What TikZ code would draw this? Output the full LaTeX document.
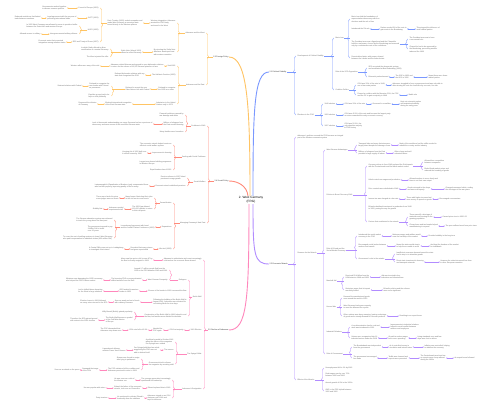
\documentclass[tikz,border=0pt]{standalone}
\usepackage{fontspec}
\setmainfont{Liberation Sans}
\usetikzlibrary{arrows.meta,calc,decorations.pathreplacing}
\definecolor{InkGray}{RGB}{100,100,100}
\definecolor{InkDark}{RGB}{45,45,45}
\definecolor{BlueLn}{RGB}{122,152,255}
\definecolor{PurpleLn}{RGB}{178,140,255}
\definecolor{OrangeLn}{RGB}{255,196,100}
\definecolor{RedLn}{RGB}{255,138,122}
\definecolor{PinkLn}{RGB}{255,135,188}

\begin{document}
\begin{tikzpicture}[
    x=1pt,y=-1pt,
    txt/.style={font=\fontsize{1.8}{2.45}\selectfont,text=InkGray,inner sep=0.3pt,align=left},
    tR/.style={txt,anchor=west},
    tL/.style={txt,anchor=east},
    mainLbl/.style={font=\fontsize{1.9}{2.5}\selectfont,text=InkDark,inner sep=0.3pt},
    ctrBox/.style={font=\fontsize{3.1}{3.8}\selectfont,text=black,align=center,inner sep=0.6pt},
    biArr/.style={{Latex[length=1.2pt,width=1.3pt]}-{Latex[length=1.2pt,width=1.3pt]},line width=0.5pt,color=#1},
    brc/.style={decorate,decoration={brace,amplitude=2pt},line width=0.45pt,draw=#1},
    stub/.style={line width=0.45pt,draw=#1},
    mainCurve/.style={line width=0.9pt,draw=#1}
  ]
  \fill[white] (0,0) rectangle (500,409);
  \useasboundingbox (0,0) rectangle (500,409);

  % Centre
  \node(ctr)[ctrBox] at (251,200) {2. West Germany\\(FRG)};

  % Branch 2.1: Political Stability (blue)
  \node(ps)[mainLbl,anchor=west] at (269,72) {2.1 Political Stability};
  \node(B1)[tR] at (297,56) {Development of Political Stability};
  \node(B2)[tR] at (297,115) {Elections in the FRG};

  \node(b11)[tR] at (335,38) {Basic Law};
  \node(b111)[tR] at (351,19) {Basic Law laid the foundations of\\representative democracy with free\\elections and the rule of law};
  \node(b112)[tR] at (351,29) {Introduced the 5\% rule};
  \node(b112a)[tR] at (380,29) {Parties needed 5\% of the vote to\\gain seats in the Bundestag};
  \node(b112b)[tR] at (416,29) {This stopped the influence of\\small radical parties};
  \node(b113)[tR] at (351,44) {The President was now a figurehead and the Chancellor\\held the real power, chosen by the Bundestag and removed\\only by a constructive vote of no confidence};
  \node(b113a)[tR] at (409,39) {The President was now to have\\a ceremonial role};
  \node(b113b)[tR] at (409,49) {Chancellor had to be approved by\\the Bundestag, preventing another\\takeover like 1933};
  \node(b114)[tR] at (351,58) {Decentralised state, with powers shared\\between the Länder and the federal state};

  \node(b12)[tR] at (335,72) {Role of the SPD Opposition};
  \node(b121)[tR] at (368,68) {SPD accepted the democratic system\\and moderated at Bad Godesberg (1959)};
  \node(b122)[tR] at (368,77) {Extremist parties banned};
  \node(b122a)[tR] at (395,77) {The SRP in 1952 and\\the KPD in 1956};
  \node(b122b)[tR] at (428,77) {Meant there were fewer\\radical parties};

  \node(b13)[tR] at (335,90) {Coalition Politics};
  \node(b131)[tR] at (357,85) {CDU won 31\% of the vote in 1949,\\one of two main parties};
  \node(b131a)[tR] at (392,85) {Adenauer struggled to form a government and was only able to\\after winning the vote for chancellor by one vote, his own};
  \node(b132)[tR] at (357,95) {Formed a coalition with the Bavarian CSU, the FDP\\and the DP to gain a majority in 1949};
  \node(b132a)[tR] at (408,95) {Stable rule};

  \node(b21)[tR] at (324,104) {1949 election};
  \node(b21a)[tR] at (344,104) {CDU won 31\% of the vote};
  \node(b21b)[tR] at (372,104) {Governed in a coalition};
  \node(b21c)[tR] at (400,104) {Kept out extremist parties\\and maintained stability\\during the early years};
  \node(b22)[tR] at (324,115) {1953 election};
  \node(b22a)[tR] at (344,115) {CDU won 45.2\% of the vote and became the largest party\\as voters rewarded the early economic recovery};
  \node(b23)[tR] at (324,126) {1957 election};
  \node(b23a)[tR] at (344,126) {CDU won 50.2\%, the\\only absolute majority\\in FRG history};

  \draw[mainCurve=BlueLn] ($(ctr.north)+(2,0)$) .. controls (253,110) and (254,72) .. (ps.west);
  \draw[stub=BlueLn] (ps) -- ($(B1.west |- ps)+(-1.5,0)$);
  \draw[brc=BlueLn,decoration={aspect=0.73}] ([xshift=-1.5pt]B2.west) -- ([xshift=-1.5pt]B1.west);
  \draw[stub=BlueLn] (B1) -- ($(b11.west |- B1)+(-1.5,0)$);
  \draw[brc=BlueLn,decoration={aspect=0.65}] ([xshift=-1.5pt]b13.west) -- ([xshift=-1.5pt]b11.west);
  \draw[stub=BlueLn] (b11) -- ($(b111.west |- b11)+(-1.5,0)$);
  \draw[brc=BlueLn] ([xshift=-1.5pt]b114.west) -- ([xshift=-1.5pt]b111.west);
  \draw[stub=BlueLn] (b113) -- ($(b113a.west |- b113)+(-1.5,0)$);
  \draw[brc=BlueLn] ([xshift=-1.5pt]b113b.west) -- ([xshift=-1.5pt]b113a.west);
  \draw[stub=BlueLn] (b12) -- ($(b121.west |- b12)+(-1.5,0)$);
  \draw[brc=BlueLn] ([xshift=-1.5pt]b122.west) -- ([xshift=-1.5pt]b121.west);
  \draw[stub=BlueLn] (b13) -- ($(b131.west |- b13)+(-1.5,0)$);
  \draw[brc=BlueLn] ([xshift=-1.5pt]b132.west) -- ([xshift=-1.5pt]b131.west);
  \draw[stub=BlueLn] (B2) -- ($(b21.west |- B2)+(-1.5,0)$);
  \draw[brc=BlueLn] ([xshift=-1.5pt]b23.west) -- ([xshift=-1.5pt]b21.west);
  \draw[biArr=BlueLn] (b112) -- (b112a);
  \draw[biArr=BlueLn] (b112a) -- (b112b);
  \draw[biArr=BlueLn] (b122) -- (b122a);
  \draw[biArr=BlueLn] (b122a) -- (b122b);
  \draw[biArr=BlueLn] (b131) -- (b131a);
  \draw[biArr=BlueLn] (b132) -- (b132a);
  \draw[biArr=BlueLn] (b21) -- (b21a);
  \draw[biArr=BlueLn] (b21a) -- (b21b);
  \draw[biArr=BlueLn] (b21b) -- (b21c);
  \draw[biArr=BlueLn] (b22) -- (b22a);
  \draw[biArr=BlueLn] (b23) -- (b23a);

  % Branch 2.2: Economic Miracle (purple)
  \node(em)[mainLbl,anchor=west] at (269,264) {2.2 Economic Miracle};
  \node(P1)[tR] at (297,137) {Adenauer's policies ensured the FRG became an integral\\part of the Western economic system};
  \node(P2)[tR] at (297,253) {Reasons for the Miracle};
  \node(P3)[tR] at (297,380) {Effects of the Miracle};

  \node(p21)[tR] at (326,150) {West German Advantages};
  \node(p211)[tR] at (358,145) {Transport links and many factories were\\largely intact despite the damage of war};
  \node(p211a)[tR] at (399,145) {Much of the workforce had the skills needed to\\rebuild the country and its industry};
  \node(p212)[tR] at (358,153) {Millions of refugees from the East\\provided a large supply of labour};
  \node(p212a)[tR] at (394,153) {Often cheap and well\\educated labour};

  \node(p22)[tR] at (326,195) {Policies to Boost Recovery 1948};
  \node(p221)[tR] at (368,166) {Currency reform in June 1948 replaced the Reichsmark\\with the Deutschmark and the black market ended};
  \node(p221a)[tR] at (424,162) {Allowed free competition\\between companies};
  \node(p221b)[tR] at (424,170) {Ended fixed market prices and\\reduced the hoarding of goods};
  \node(p222)[tR] at (368,180) {Lifted controls on wages and production};
  \node(p222a)[tR] at (409,180) {Allowed workers to move freely and\\firms to set their own output};
  \node(p223)[tR] at (368,189) {Price controls were abolished in 1948};
  \node(p223a)[tR] at (407,189) {Goods returned to the shops\\and were sold openly};
  \node(p223b)[tR] at (445,189) {Changed consumer habits, ending\\the shortages of the war years};
  \node(p224)[tR] at (368,199) {Income tax was charged at a low rate};
  \node(p224a)[tR] at (406,199) {Those with higher incomes had\\more money to spend on goods};
  \node(p224b)[tR] at (439,199) {Encouraged consumerism};
  \node(p225)[tR] at (368,208) {Erhard subsidised investment in production from 1948\\to 1950, paving the way for growth};
  \node(p226)[tR] at (368,222) {Factors that contributed to the miracle};
  \node(p226a)[tR] at (409,217) {There was still a shortage of\\materials and housing for the\\growing population};
  \node(p226a1)[tR] at (442,217) {Caused price rises in 1950--52};
  \node(p226b)[tR] at (409,226) {Cheap loans and tax breaks helped\\manufacturing to expand};
  \node(p226b1)[tR] at (445,226) {The poor suffered most from price rises};

  \node(p23)[tR] at (326,250) {Role of Erhard and the\\Social Market Economy};
  \node(p231)[tR] at (358,236) {Introduced the social market\\economy in the FRG};
  \node(p231a)[tR] at (392,236) {Minimum wages and welfare would\\ease the hardship of the market};
  \node(p231b)[tR] at (428,236) {Provided stability in the long term};
  \node(p232)[tR] at (358,246) {Encouraged social justice between\\workers and owners};
  \node(p232a)[tR] at (396,246) {Meant the state would step in\\to help those unable to work};
  \node(p232b)[tR] at (430,246) {And kept the freedom of the market\\for individuals};
  \node(p233)[tR] at (358,259) {Government's role in the miracle};
  \node(p233a)[tR] at (396,254) {Insufficient consumer demand meant the state\\had to step in to stimulate growth};
  \node(p233b)[tR] at (396,262) {Direct state investment in housing\\and transport networks};
  \node(p233b1)[tR] at (440,262) {However the state intervened less than\\in other European countries};

  \node(p24)[tR] at (326,281) {Marshall Aid};
  \node(p241)[tR] at (345,277) {Received \$1.4 billion from the\\USA between 1948 and 1952};
  \node(p241a)[tR] at (381,277) {Aid was invested in key\\industries and infrastructure};
  \node(p242)[tR] at (345,290) {Historians argue that its impact\\was fairly limited};
  \node(p242a)[tR] at (383,290) {Erhard's policies and the reforms\\were more significant};

  \node(p25)[tR] at (326,307) {Korean War};
  \node(p251)[tR] at (343,298) {Demand for manufactured goods\\rose around the world in 1950};
  \node(p252)[tR] at (343,307) {West Germany had spare capacity\\to meet the demand for exports};
  \node(p253)[tR] at (343,316) {Other nations were busy rearming, leaving a shortage\\of goods and a steady demand for German products};
  \node(p253a)[tR] at (399,316) {Resulting in an export boom};

  \node(p26)[tR] at (326,332) {Industrial Relations};
  \node(p261)[tR] at (351,327) {A co-determination law for coal and\\steel was introduced in 1951};
  \node(p261a)[tR] at (390,327) {Improvements in industrial relations\\helped to avoid conflict between\\workers and employers};
  \node(p262)[tR] at (351,338) {Unions were reorganised into 16\\industrial unions under the DGB};
  \node(p262a)[tR] at (388,338) {Growth in worker wages\\led to more spending};
  \node(p262b)[tR] at (417,338) {Living standards rose and few\\days were lost to strikes};

  \node(p27)[tR] at (326,354) {Role of Government};
  \node(p271)[tR] at (353,347) {The Bundesbank was independent\\from the government};
  \node(p271a)[tR] at (389,347) {As it controlled money in\\circulation and interest rates};
  \node(p271b)[tR] at (424,347) {Inflation was controlled, helping\\to stabilise the economy};
  \node(p272)[tR] at (353,358) {The government encouraged\\free trade};
  \node(p272a)[tR] at (388,358) {Tariffs were lowered and\\exports were promoted};
  \node(p272b)[tR] at (420,358) {The Deutschmark was kept low\\so exports were cheap abroad\\during the 1950s};
  \node(p272c)[tR] at (454,358) {An export boom followed};

  \node(p31)[tR] at (325,368) {Unemployment fell to 1\% by 1962};
  \node(p32)[tR] at (325,375) {Real wages rose by over 70\%\\between 1950 and 1962};
  \node(p33)[tR] at (325,383) {Annual growth of 8\% in the 1950s};
  \node(p34)[tR] at (325,391) {GNP in the FRG tripled between\\1950 and 1960};

  \draw[mainCurve=PurpleLn] ($(ctr.south)+(2,0)$) .. controls (253,255) and (254,264) .. (em.west);
  \draw[stub=PurpleLn] (em) -- ($(P2.west |- em)+(-1.5,0)$);
  \draw[brc=PurpleLn,decoration={aspect=0.477}] ([xshift=-1.5pt]P3.west) -- ([xshift=-1.5pt]P1.west);
  \draw[stub=PurpleLn] (P2) -- ($(p21.west |- P2)+(-1.5,0)$);
  \draw[brc=PurpleLn] ([xshift=-1.5pt]p27.west) -- ([xshift=-1.5pt]p21.west);
  \draw[stub=PurpleLn] (p21) -- ($(p211.west |- p21)+(-1.5,0)$);
  \draw[brc=PurpleLn] ([xshift=-1.5pt]p212.west) -- ([xshift=-1.5pt]p211.west);
  \draw[stub=PurpleLn] (p22) -- ($(p221.west |- p22)+(-1.5,0)$);
  \draw[brc=PurpleLn] ([xshift=-1.5pt]p226.west) -- ([xshift=-1.5pt]p221.west);
  \draw[stub=PurpleLn] (p221) -- ($(p221a.west |- p221)+(-1.5,0)$);
  \draw[brc=PurpleLn] ([xshift=-1.5pt]p221b.west) -- ([xshift=-1.5pt]p221a.west);
  \draw[stub=PurpleLn] (p226) -- ($(p226a.west |- p226)+(-1.5,0)$);
  \draw[brc=PurpleLn] ([xshift=-1.5pt]p226b.west) -- ([xshift=-1.5pt]p226a.west);
  \draw[stub=PurpleLn] (p23) -- ($(p231.west |- p23)+(-1.5,0)$);
  \draw[brc=PurpleLn] ([xshift=-1.5pt]p233.west) -- ([xshift=-1.5pt]p231.west);
  \draw[stub=PurpleLn] (p233) -- ($(p233a.west |- p233)+(-1.5,0)$);
  \draw[brc=PurpleLn] ([xshift=-1.5pt]p233b.west) -- ([xshift=-1.5pt]p233a.west);
  \draw[stub=PurpleLn] (p24) -- ($(p241.west |- p24)+(-1.5,0)$);
  \draw[brc=PurpleLn] ([xshift=-1.5pt]p242.west) -- ([xshift=-1.5pt]p241.west);
  \draw[stub=PurpleLn] (p25) -- ($(p251.west |- p25)+(-1.5,0)$);
  \draw[brc=PurpleLn] ([xshift=-1.5pt]p253.west) -- ([xshift=-1.5pt]p251.west);
  \draw[stub=PurpleLn] (p26) -- ($(p261.west |- p26)+(-1.5,0)$);
  \draw[brc=PurpleLn] ([xshift=-1.5pt]p262.west) -- ([xshift=-1.5pt]p261.west);
  \draw[stub=PurpleLn] (p27) -- ($(p271.west |- p27)+(-1.5,0)$);
  \draw[brc=PurpleLn] ([xshift=-1.5pt]p272.west) -- ([xshift=-1.5pt]p271.west);
  \draw[stub=PurpleLn] (P3) -- ($(p31.west |- P3)+(-1.5,0)$);
  \draw[brc=PurpleLn] ([xshift=-1.5pt]p34.west) -- ([xshift=-1.5pt]p31.west);
  \draw[biArr=PurpleLn] (p211) -- (p211a);
  \draw[biArr=PurpleLn] (p212) -- (p212a);
  \draw[biArr=PurpleLn] (p222) -- (p222a);
  \draw[biArr=PurpleLn] (p223) -- (p223a);
  \draw[biArr=PurpleLn] (p223a) -- (p223b);
  \draw[biArr=PurpleLn] (p224) -- (p224a);
  \draw[biArr=PurpleLn] (p224a) -- (p224b);
  \draw[biArr=PurpleLn] (p226a) -- (p226a1);
  \draw[biArr=PurpleLn] (p226b) -- (p226b1);
  \draw[biArr=PurpleLn] (p231) -- (p231a);
  \draw[biArr=PurpleLn] (p231a) -- (p231b);
  \draw[biArr=PurpleLn] (p232) -- (p232a);
  \draw[biArr=PurpleLn] (p232a) -- (p232b);
  \draw[biArr=PurpleLn] (p233b) -- (p233b1);
  \draw[biArr=PurpleLn] (p241) -- (p241a);
  \draw[biArr=PurpleLn] (p242) -- (p242a);
  \draw[biArr=PurpleLn] (p253) -- (p253a);
  \draw[biArr=PurpleLn] (p261) -- (p261a);
  \draw[biArr=PurpleLn] (p262) -- (p262a);
  \draw[biArr=PurpleLn] (p262a) -- (p262b);
  \draw[biArr=PurpleLn] (p271) -- (p271a);
  \draw[biArr=PurpleLn] (p271a) -- (p271b);
  \draw[biArr=PurpleLn] (p272) -- (p272a);
  \draw[biArr=PurpleLn] (p272a) -- (p272b);
  \draw[biArr=PurpleLn] (p272b) -- (p272c);

  % Branch 2.3: Foreign Policy (orange)
  \node(fp)[mainLbl,anchor=east] at (229,57) {2.3 Foreign Policy};
  \node(O1)[tL] at (205,33) {Adenauer and the West};
  \node(O2)[tL] at (205,85) {Adenauer and the East};

  \node(ow1)[tL] at (176,23) {Western integration: Adenauer\\wanted the FRG firmly\\anchored in the West};
  \node(ow1a)[tL] at (143,23) {Paris Treaties (1955) ended occupation and\\made West Germany a sovereign state\\bound closely to the Western powers};
  \node(ow1a1)[tL] at (99,8) {Council of Europe (1951)};
  \node(ow1a1a)[tL] at (67,8) {Governments worked together\\to discuss common policies};
  \node(ow1a2)[tL] at (99,18) {GATT (1951)};
  \node(ow1a2a)[tL] at (77,18) {Legal agreement with the purpose of\\promoting international trade};
  \node(ow1a2b)[tL] at (41,18) {Reduced restrictions that limited\\trade between members};
  \node(ow1a3)[tL] at (99,30) {NATO (1955)};
  \node(ow1a3a)[tL] at (78,26) {In 1955 West Germany was allowed to rearm to provide a buffer\\between the Soviet bloc and western Europe};
  \node(ow1a3b)[tL] at (78,34) {Intergovernmental military alliance};
  \node(ow1a3b1)[tL] at (41,34) {Allowed access to military};
  \node(ow1a4)[tL] at (99,42) {EEC and Treaty of Rome (1957)};
  \node(ow1a4a)[tL] at (66,42) {Economic union that promoted\\integration among member states};
  \node(ow2)[tL] at (176,52) {By rejecting the Stalin Note\\Adenauer developed trust\\with western countries};
  \node(ow2a)[tL] at (142,52) {Stalin Note (March 1952)\\offered a united Germany};
  \node(ow2a1)[tL] at (109,49) {In which Stalin offered to allow\\reunification of a neutral Germany};
  \node(ow2a2)[tL] at (109,57) {The West rejected the offer};

  \node(oe1)[tL] at (176,66) {Visit 1955};
  \node(oe1a)[tL] at (164,66) {Adenauer visited Moscow and agreed to open diplomatic relations\\in return for the release of 10,000 German prisoners of war};
  \node(oe1b)[tL] at (100,66) {Western allies were wary of the visit};
  \node(oe2)[tL] at (176,75) {The Hallstein Doctrine (1955)};
  \node(oe2a)[tL] at (145,75) {Refused diplomatic relations with any\\state that recognised the GDR};
  \node(oe3)[tL] at (176,89) {Refused to recognise\\the GDR as a state};
  \node(oe3a)[tL] at (150,89) {Refused to accept the new\\Oder-Neisse Line with Poland};
  \node(oe3a1)[tL] at (110,86) {Refused to recognise the\\new border with Poland\\as permanent};
  \node(oe3a1a)[tL] at (82,86) {Strained relations with Poland};
  \node(oe3a2)[tL] at (110,96) {Expellee groups had to be\\kept on side politically};
  \node(oe4)[tL] at (176,104) {Admission to the United\\Nations only in 1973};
  \node(oe4a)[tL] at (132,104) {Blocked international recognition\\of the East German state};
  \node(oe4b)[tL] at (97,104) {Deepened the division\\of Germany};

  \draw[mainCurve=OrangeLn] ($(ctr.north)+(-1,0)$) .. controls (250,110) and (248,57) .. (fp.east);
  \draw[stub=OrangeLn] (fp) -- ($(O1.east |- fp)+(1.5,0)$);
  \draw[brc=OrangeLn,decoration={aspect=0.46}] ([xshift=1.5pt]O1.east) -- ([xshift=1.5pt]O2.east);
  \draw[stub=OrangeLn] (O1) -- ($(ow1.east |- O1)+(1.5,0)$);
  \draw[brc=OrangeLn,decoration={aspect=0.35}] ([xshift=1.5pt]ow1.east) -- ([xshift=1.5pt]ow2.east);
  \draw[stub=OrangeLn] (ow1a) -- ($(ow1a1.east |- ow1a)+(1.5,0)$);
  \draw[brc=OrangeLn] ([xshift=1.5pt]ow1a1.east) -- ([xshift=1.5pt]ow1a4.east);
  \draw[stub=OrangeLn] (ow1a3) -- ($(ow1a3a.east |- ow1a3)+(1.5,0)$);
  \draw[brc=OrangeLn] ([xshift=1.5pt]ow1a3a.east) -- ([xshift=1.5pt]ow1a3b.east);
  \draw[stub=OrangeLn] (ow2a) -- ($(ow2a1.east |- ow2a)+(1.5,0)$);
  \draw[brc=OrangeLn] ([xshift=1.5pt]ow2a1.east) -- ([xshift=1.5pt]ow2a2.east);
  \draw[stub=OrangeLn] (O2) -- ($(oe1.east |- O2)+(1.5,0)$);
  \draw[brc=OrangeLn] ([xshift=1.5pt]oe1.east) -- ([xshift=1.5pt]oe4.east);
  \draw[stub=OrangeLn] (oe3a) -- ($(oe3a1.east |- oe3a)+(1.5,0)$);
  \draw[brc=OrangeLn] ([xshift=1.5pt]oe3a1.east) -- ([xshift=1.5pt]oe3a2.east);
  \draw[biArr=OrangeLn] (ow1) -- (ow1a);
  \draw[biArr=OrangeLn] (ow1a1) -- (ow1a1a);
  \draw[biArr=OrangeLn] (ow1a2) -- (ow1a2a);
  \draw[biArr=OrangeLn] (ow1a2a) -- (ow1a2b);
  \draw[biArr=OrangeLn] (ow1a3b) -- (ow1a3b1);
  \draw[biArr=OrangeLn] (ow1a4) -- (ow1a4a);
  \draw[biArr=OrangeLn] (ow2) -- (ow2a);
  \draw[biArr=OrangeLn] (oe1) -- (oe1a);
  \draw[biArr=OrangeLn] (oe1a) -- (oe1b);
  \draw[biArr=OrangeLn] (oe2) -- (oe2a);
  \draw[biArr=OrangeLn] (oe3) -- (oe3a);
  \draw[biArr=OrangeLn] (oe3a1) -- (oe3a1a);
  \draw[biArr=OrangeLn] (oe4) -- (oe4a);
  \draw[biArr=OrangeLn] (oe4a) -- (oe4b);

  % Branch 2.4: Social Policy (red)
  \node(sp)[mainLbl,anchor=east] at (229,181) {2.4 Social Policy};
  \node(R1)[tL] at (206,126) {Problems in 1949};
  \node(R2)[tL] at (206,157) {Dealing with Social Problems};
  \node(R3)[tL] at (206,182) {Social Welfare};
  \node(R4)[tL] at (206,223) {Managing Germany's Nazi Past};

  \node(r11)[tL] at (184,115) {Financial problems caused by\\war damage and debts};
  \node(r12)[tL] at (184,124) {Millions of refugees from\\the East needed housing};
  \node(r12a)[tL] at (153,124) {Lack of democratic understanding, as many Germans had no experience of\\democracy and were unsure of the new West German state};
  \node(r13)[tL] at (184,132) {Many families were homeless};

  \node(r21)[tL] at (172,145) {The economic miracle helped create an\\efficient social welfare system};
  \node(r22)[tL] at (172,153) {Improvement in housing};
  \node(r22a)[tL] at (147,153) {Housing Act of 1950 built over\\4 million homes by 1960};
  \node(r23)[tL] at (172,163) {Largest ever house building programme\\in Western Europe};
  \node(r24)[tL] at (172,170) {Equal burdens law of 1952};

  \node(r31)[tL] at (186,178) {Pension reforms in 1957 linked\\pensions to wage growth};
  \node(r32)[tL] at (186,186) {Economic miracle stabilised pensions};
  \node(r32a)[tL] at (149,186) {Lastenausgleich (Equalisation of Burdens Law) compensated those\\who had lost property, improving quality of life for many};

  \node(r41)[tL] at (172,203) {Denazification};
  \node(r411)[tL] at (153,198) {Many former Nazis kept their jobs\\in the civil service and courts};
  \node(r411a)[tL] at (119,198) {There was a lack of trust as\\some judges were ex-Nazis};
  \node(r412)[tL] at (153,209) {The 1951 law allowed\\150,000 officials to return\\to their old posts};
  \node(r412a)[tL] at (124,209) {Adenauer needed\\experienced staff};
  \node(r412b)[tL] at (103,209) {Stability first};
  \node(r42)[tL] at (172,227) {Reparations};
  \node(r42a)[tL] at (155,227) {Luxembourg Agreement with Israel\\and the Jewish Claims Conference (1952)};
  \node(r42a1)[tL] at (113,220) {The German education system was reformed\\to teach the young about the Nazi past};
  \node(r42a2)[tL] at (113,229) {The government agreed to pay\\3 billion DM to Israel\\over 12 years};
  \node(r42a3)[tL] at (113,238) {To cover the cost of settling survivors in Israel, West Germany\\also paid compensation to individual victims (450 million DM)};
  \node(r43)[tL] at (172,249) {Ulm trial (1958)};
  \node(r43a)[tL] at (153,249) {Revealed that many crimes\\had gone unpunished};
  \node(r43b)[tL] at (124,249) {A Central Office was set up in Ludwigsburg\\to investigate Nazi crimes};

  \draw[mainCurve=RedLn] ($(ctr.north)+(-3,0)$) .. controls (247,186) and (238,181) .. (sp.east);
  \draw[stub=RedLn] (sp) -- ($(R1.east |- sp)+(1.5,0)$);
  \draw[brc=RedLn,decoration={aspect=0.567}] ([xshift=1.5pt]R1.east) -- ([xshift=1.5pt]R4.east);
  \draw[stub=RedLn] (R1) -- ($(r11.east |- R1)+(1.5,0)$);
  \draw[brc=RedLn] ([xshift=1.5pt]r11.east) -- ([xshift=1.5pt]r13.east);
  \draw[stub=RedLn] (R2) -- ($(r21.east |- R2)+(1.5,0)$);
  \draw[brc=RedLn] ([xshift=1.5pt]r21.east) -- ([xshift=1.5pt]r24.east);
  \draw[stub=RedLn] (R3) -- ($(r31.east |- R3)+(1.5,0)$);
  \draw[brc=RedLn] ([xshift=1.5pt]r31.east) -- ([xshift=1.5pt]r32.east);
  \draw[stub=RedLn] (R4) -- ($(r41.east |- R4)+(1.5,0)$);
  \draw[brc=RedLn] ([xshift=1.5pt]r41.east) -- ([xshift=1.5pt]r43.east);
  \draw[stub=RedLn] (r41) -- ($(r411.east |- r41)+(1.5,0)$);
  \draw[brc=RedLn] ([xshift=1.5pt]r411.east) -- ([xshift=1.5pt]r412.east);
  \draw[stub=RedLn] (r42a) -- ($(r42a1.east |- r42a)+(1.5,0)$);
  \draw[brc=RedLn] ([xshift=1.5pt]r42a1.east) -- ([xshift=1.5pt]r42a3.east);
  \draw[biArr=RedLn] (r12) -- (r12a);
  \draw[biArr=RedLn] (r22) -- (r22a);
  \draw[biArr=RedLn] (r32) -- (r32a);
  \draw[biArr=RedLn] (r411) -- (r411a);
  \draw[biArr=RedLn] (r412) -- (r412a);
  \draw[biArr=RedLn] (r412a) -- (r412b);
  \draw[biArr=RedLn] (r42) -- (r42a);
  \draw[biArr=RedLn] (r43) -- (r43a);
  \draw[biArr=RedLn] (r43a) -- (r43b);

  % Branch 2.5: Decline of Adenauer (pink)
  \node(da)[mainLbl,anchor=east] at (229,330) {2.5 Decline of Adenauer};
  \node(k1)[tL] at (202,260) {Adenauer's authoritarian style was increasingly\\criticised as the economic boom slowed};
  \node(k1a)[tL] at (153,260) {Many saw him as too old; he was 87 by\\the time he finally resigned in 1963};
  \node(k2)[tL] at (202,297) {Berlin Wall};
  \node(k3)[tL] at (202,330) {1961 Election};
  \node(k4)[tL] at (202,354) {The Spiegel Affair};
  \node(k5)[tL] at (202,389) {Adenauer's Resignation};

  \node(k21)[tL] at (187,280) {Refugees};
  \node(k211)[tL] at (168,270) {Around 2.7 million people fled from the\\GDR to the FRG between 1949 and 1961};
  \node(k212)[tL] at (168,280) {West German Prosperity};
  \node(k212a)[tL] at (142,280) {The booming FRG economy attracted\\skilled workers from the East};
  \node(k212b)[tL] at (103,280) {Whatever was damaging the GDR's economy\\also helped the FRG's labour market};
  \node(k22)[tL] at (187,291) {Closure of the border in 1952 increased the flow};
  \node(k22a)[tL] at (139,291) {GDR sealed its western\\border in 1952};
  \node(k22b)[tL] at (103,291) {Led to skilled labour departing\\for the West in large numbers};
  \node(k23)[tL] at (187,302) {Following the building of the Berlin Wall in\\August 1961, Adenauer was criticised for\\not visiting Berlin for nine days};
  \node(k23a)[tL] at (140,302) {Seen as weak and out of touch\\with ordinary Germans};
  \node(k23b)[tL] at (108,302) {Election losses in 1961 followed\\as many voters turned to the SPD};
  \node(k24)[tL] at (187,316) {Construction of the Berlin Wall in 1961 helped to end\\the flow, but families were divided for decades};
  \node(k241)[tL] at (133,312) {Willy Brandt (Berlin) gained popularity};
  \node(k242)[tL] at (133,320) {The Berlin Wall became a symbol\\of the Cold War division\\of Europe};
  \node(k242a)[tL] at (98,320) {Therefore the SPD gained ground\\with voters in the 1961 election};

  \node(k3a)[tL] at (184,330) {CDU lost majority};
  \node(k3b)[tL] at (163,330) {Needed the\\FDP again};
  \node(k3c)[tL] at (148,330) {CDU vote fell to 45.3\%};
  \node(k3d)[tL] at (122,330) {The FDP demanded that\\Adenauer step down soon};

  \node(k41)[tL] at (174,342) {A political scandal in October 1962\\when the offices of the magazine\\Der Spiegel were raided};
  \node(k42)[tL] at (174,350) {The causes};
  \node(k42a)[tL] at (160,350) {Der Spiegel published an article\\suggesting the FRG was not\\able to defend itself};
  \node(k42b)[tL] at (126,350) {It questioned defence\\minister Franz Josef Strauss};
  \node(k43)[tL] at (174,364) {Government tried to silence\\the magazine by arresting staff};
  \node(k431)[tL] at (140,359) {Strauss was forced to resign\\after lying to parliament};
  \node(k432)[tL] at (140,370) {The FDP ministers left the coalition and\\Adenauer promised to retire in 1963};
  \node(k432a)[tL] at (99,370) {Damaged the image\\of the CDU};
  \node(k432b)[tL] at (80,370) {Seen as an attack on the press};

  \node(k51)[tL] at (171,380) {The younger generation increasingly\\questioned his leadership};
  \node(k51a)[tL] at (135,380) {He was seen as a relic of\\the Weimar era};
  \node(k52)[tL] at (171,388) {Erhard replaced him in 1963};
  \node(k52a)[tL] at (142,388) {Erhard, the father of the economic\\miracle, took over as Chancellor};
  \node(k52b)[tL] at (106,388) {He was popular with voters};
  \node(k53)[tL] at (171,398) {Adenauer stayed on as CDU\\chairman until 1966 and\\kept his influence};
  \node(k53a)[tL] at (144,398) {He continued to criticise Erhard's\\leadership from the sidelines};
  \node(k53b)[tL] at (108,398) {Party tensions};

  \draw[mainCurve=PinkLn] ($(ctr.south)+(-2,0)$) .. controls (249,300) and (247,330) .. (da.east);
  \draw[stub=PinkLn] (da) -- ($(k1.east |- da)+(1.5,0)$);
  \draw[brc=PinkLn,decoration={aspect=0.54}] ([xshift=1.5pt]k1.east) -- ([xshift=1.5pt]k5.east);
  \draw[stub=PinkLn] (k2) -- ($(k21.east |- k2)+(1.5,0)$);
  \draw[brc=PinkLn] ([xshift=1.5pt]k21.east) -- ([xshift=1.5pt]k24.east);
  \draw[stub=PinkLn] (k21) -- ($(k211.east |- k21)+(1.5,0)$);
  \draw[brc=PinkLn] ([xshift=1.5pt]k211.east) -- ([xshift=1.5pt]k212.east);
  \draw[stub=PinkLn] (k24) -- ($(k241.east |- k24)+(1.5,0)$);
  \draw[brc=PinkLn] ([xshift=1.5pt]k241.east) -- ([xshift=1.5pt]k242.east);
  \draw[stub=PinkLn] (k4) -- ($(k41.east |- k4)+(1.5,0)$);
  \draw[brc=PinkLn] ([xshift=1.5pt]k41.east) -- ([xshift=1.5pt]k43.east);
  \draw[stub=PinkLn] (k43) -- ($(k431.east |- k43)+(1.5,0)$);
  \draw[brc=PinkLn] ([xshift=1.5pt]k431.east) -- ([xshift=1.5pt]k432.east);
  \draw[stub=PinkLn] (k5) -- ($(k51.east |- k5)+(1.5,0)$);
  \draw[brc=PinkLn] ([xshift=1.5pt]k51.east) -- ([xshift=1.5pt]k53.east);
  \draw[biArr=PinkLn] (k1) -- (k1a);
  \draw[biArr=PinkLn] (k212) -- (k212a);
  \draw[biArr=PinkLn] (k212a) -- (k212b);
  \draw[biArr=PinkLn] (k22) -- (k22a);
  \draw[biArr=PinkLn] (k22a) -- (k22b);
  \draw[biArr=PinkLn] (k23) -- (k23a);
  \draw[biArr=PinkLn] (k23a) -- (k23b);
  \draw[biArr=PinkLn] (k242) -- (k242a);
  \draw[biArr=PinkLn] (k3) -- (k3a);
  \draw[biArr=PinkLn] (k3a) -- (k3b);
  \draw[biArr=PinkLn] (k3b) -- (k3c);
  \draw[biArr=PinkLn] (k3c) -- (k3d);
  \draw[biArr=PinkLn] (k42) -- (k42a);
  \draw[biArr=PinkLn] (k42a) -- (k42b);
  \draw[biArr=PinkLn] (k432) -- (k432a);
  \draw[biArr=PinkLn] (k432a) -- (k432b);
  \draw[biArr=PinkLn] (k51) -- (k51a);
  \draw[biArr=PinkLn] (k52) -- (k52a);
  \draw[biArr=PinkLn] (k52a) -- (k52b);
  \draw[biArr=PinkLn] (k53) -- (k53a);
  \draw[biArr=PinkLn] (k53a) -- (k53b);
\end{tikzpicture}
\end{document}
